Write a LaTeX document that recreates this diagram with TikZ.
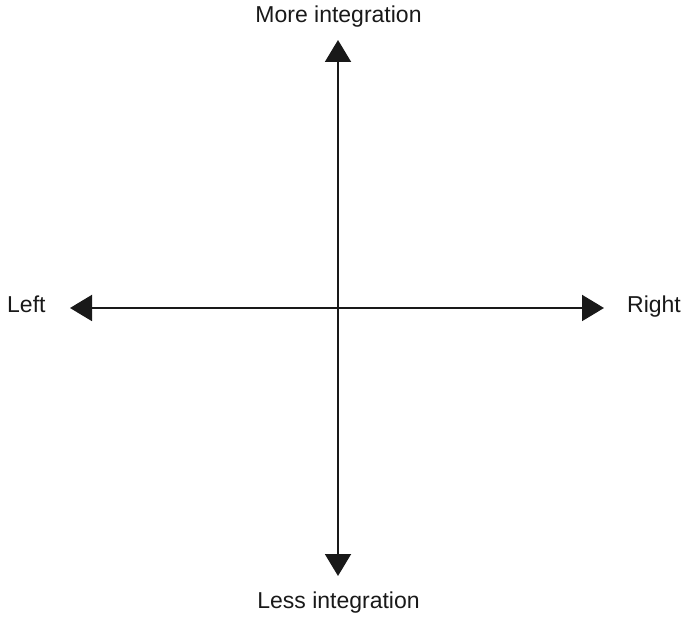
\documentclass[tikz,border=0pt]{standalone}
\usepackage{fontspec}
\setmainfont{Liberation Sans}
\usetikzlibrary{arrows.meta}
\begin{document}
\begin{tikzpicture}[x=1pt,y=-1pt,
  axis/.style={line width=2pt, color=black!90, {Triangle[length=22pt,width=26pt]}-{Triangle[length=22pt,width=26pt]}},
  lbl/.style={inner sep=0pt, font=\fontsize{23}{27}\selectfont, text=black!90}]
\useasboundingbox (0,0) rectangle (683,617);
\coordinate (t) at (338,40);
\coordinate (b) at (338,576);
\coordinate (l) at (70,308);
\coordinate (r) at (604,308);
\draw[axis] (b) -- (t);
\draw[axis] (l) -- (r);
\node[lbl, anchor=base] (more) at (338.5,23) {More integration};
\node[lbl, anchor=base] (less) at (338.5,608) {Less integration};
\node[lbl, anchor=base west] (left) at (7,313) {Left};
\node[lbl, anchor=base west] (right) at (627,313) {Right};
\end{tikzpicture}
\end{document}
